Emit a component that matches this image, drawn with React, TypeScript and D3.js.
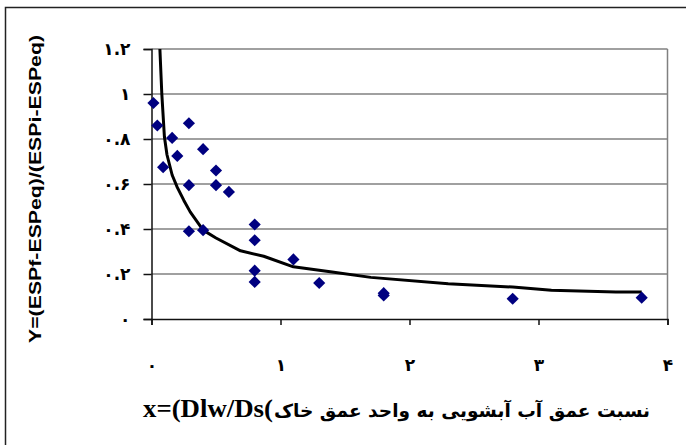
import React, { useEffect, useRef } from 'react';
import * as d3 from 'd3';

// measured points (x = Dlw/Ds, y = relative ESP)
const pointX = [0.015, 0.045, 0.09, 0.16, 0.2, 0.29, 0.29, 0.29, 0.4, 0.4, 0.5, 0.5, 0.6, 0.8, 0.8, 0.8, 0.8, 1.1, 1.3, 1.8, 1.8, 2.8, 3.8];
const pointY = [0.96, 0.86, 0.675, 0.805, 0.725, 0.87, 0.595, 0.39, 0.755, 0.395, 0.66, 0.595, 0.565, 0.42, 0.35, 0.215, 0.165, 0.265, 0.16, 0.105, 0.115, 0.09, 0.095];

// fitted curve
const curveX = [0.065, 0.08, 0.1, 0.12, 0.16, 0.2, 0.25, 0.3, 0.4, 0.5, 0.69, 0.87, 1.1, 1.4, 1.7, 2.3, 2.8, 3.1, 3.6, 3.8];
const curveY = [1.2, 1.0, 0.81, 0.73, 0.64, 0.585, 0.528, 0.476, 0.395, 0.36, 0.303, 0.279, 0.232, 0.209, 0.185, 0.157, 0.142, 0.128, 0.12, 0.12];

const xTicks = [0, 1, 2, 3, 4];
const xTickLabels = ['۰', '۱', '۲', '۳', '۴'];
const yTicks = [0, 0.2, 0.4, 0.6, 0.8, 1, 1.2];
const yTickLabels = ['۰', '۰.۲', '۰.۴', '۰.۶', '۰.۸', '۱', '۱.۲'];

const yTitle = 'Y=(ESPf-ESPeq)/(ESPi-ESPeq)';
const xTitleLatin = 'x=(Dlw/Ds(';
const xTitlePersian = 'نسبت عمق آب آبشویی به واحد عمق خاک';

function ScatterChart() {
    const ref = useRef<SVGSVGElement>(null);

    useEffect(() => {
        const svg = d3.select(ref.current);
        svg.selectAll('*').remove();

        const x = d3.scaleLinear().domain([0, 4]).range([151.5, 667.5]);
        const y = d3.scaleLinear().domain([0, 1.2]).range([319, 49]);

        svg.append('rect')
            .attr('width', 686).attr('height', 445).attr('fill', '#fff');

        // outer frame
        svg.append('rect')
            .attr('x', 5.5).attr('y', 7.5)
            .attr('width', 700).attr('height', 460)
            .attr('fill', 'none').attr('stroke', '#222').attr('stroke-width', 1.5);

        // gridlines
        svg.append('g')
            .selectAll('line')
            .data(yTicks.slice(1))
            .enter().append('line')
            .attr('x1', x(0)).attr('x2', x(4))
            .attr('y1', d => y(d)).attr('y2', d => y(d))
            .attr('stroke', '#808080').attr('stroke-width', 1.5);

        svg.append('line')
            .attr('x1', x(4)).attr('x2', x(4))
            .attr('y1', y(1.2)).attr('y2', y(0))
            .attr('stroke', '#808080').attr('stroke-width', 1.5);

        // axes
        const yAxis = svg.append('g')
            .attr('transform', `translate(${x(0)},0)`)
            .call(d3.axisLeft(y).tickValues(yTicks).tickSize(8).tickFormat((d, i) => yTickLabels[i]));
        const xAxis = svg.append('g')
            .attr('transform', `translate(0,${y(0)})`)
            .call(d3.axisBottom(x).tickValues(xTicks).tickSize(6).tickFormat((d, i) => xTickLabels[i]));

        [yAxis, xAxis].forEach(a => {
            a.select('.domain').attr('stroke', '#111').attr('stroke-width', 1.5);
            a.selectAll('.tick line').attr('stroke', '#111').attr('stroke-width', 1.5);
            a.selectAll('text')
                .attr('fill', '#000')
                .attr('font-family', '"DejaVu Sans", sans-serif')
                .attr('font-weight', 'bold')
                .attr('font-size', 17);
        });
        yAxis.selectAll('text').attr('x', -21);
        xAxis.selectAll('text').attr('y', 40);

        // fitted curve
        const line = d3.line<number>()
            .x(i => x(curveX[i]))
            .y(i => y(curveY[i]));
        svg.append('path')
            .datum(d3.range(curveX.length))
            .attr('d', line)
            .attr('fill', 'none')
            .attr('stroke', '#000')
            .attr('stroke-width', 3)
            .attr('stroke-linejoin', 'round');

        // diamonds
        const diamond = d3.symbol().type(d3.symbolSquare).size(74);
        svg.append('g')
            .selectAll('path')
            .data(d3.range(pointX.length))
            .enter().append('path')
            .attr('d', diamond)
            .attr('transform', i => `translate(${x(pointX[i])},${y(pointY[i])}) rotate(45)`)
            .attr('fill', '#000080');

        // titles
        svg.append('text')
            .attr('transform', 'translate(41,189) rotate(-90)')
            .attr('text-anchor', 'middle')
            .attr('font-family', '"Liberation Sans", Arial, sans-serif')
            .attr('font-weight', 'bold')
            .attr('font-size', 17)
            .attr('textLength', 308)
            .attr('lengthAdjust', 'spacingAndGlyphs')
            .text(yTitle);

        svg.append('text')
            .attr('x', 143).attr('y', 417)
            .attr('font-family', '"Liberation Serif", "Times New Roman", serif')
            .attr('font-weight', 'bold')
            .attr('font-size', 25)
            .attr('textLength', 130)
            .attr('lengthAdjust', 'spacingAndGlyphs')
            .text(xTitleLatin);

        svg.append('text')
            .attr('x', 274).attr('y', 417)
            .attr('font-family', '"DejaVu Sans", sans-serif')
            .attr('font-weight', 'bold')
            .attr('font-size', 18.5)
            .attr('textLength', 376)
            .attr('lengthAdjust', 'spacingAndGlyphs')
            .text(xTitlePersian);
    }, []);

    return <svg ref={ref} width={686} height={445} style={{ position: 'absolute', left: 0, top: 0 }} />;
}

export default function App() {
    return <ScatterChart />;
}
